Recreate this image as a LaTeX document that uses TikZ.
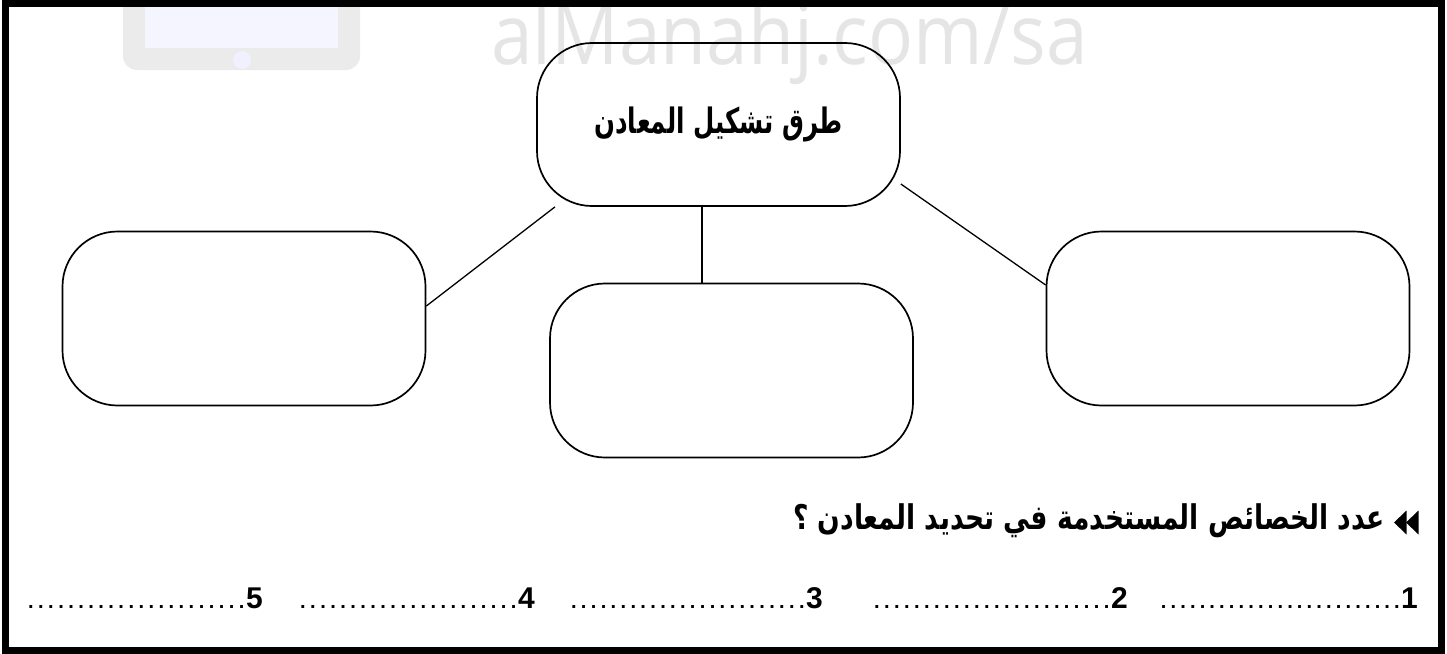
\documentclass[tikz,border=0pt]{standalone}
\usepackage{fontspec}
\setmainfont{Liberation Sans}
\newfontfamily\arb[Script=Arabic]{DejaVu Sans}
\newfontfamily\wmfont{Open Sans}
\TeXXeTstate=1
\newcommand\dotrow[1]{\makebox[#1pt]{\xleaders\hbox to 9.7pt{\hss.}\hfill}}
\begin{document}
\begin{tikzpicture}[x=1pt,y=-1pt,
  mbox/.style={draw, line width=1.7, rounded corners=55, minimum width=363, minimum height=174, inner sep=0},
  link/.style={line width=1.3},
  digit/.style={font=\bfseries\fontsize{30}{30}\selectfont, anchor=base east, inner sep=0},
  dots/.style={font=\bfseries\fontsize{20}{20}\selectfont, anchor=base east, inner sep=0},
  frame/.style={line width=6.5}]
\useasboundingbox (0,0) rectangle (1447,653);
% watermark
\fill[black!8, rounded corners=14] (123,-20) rectangle (360,70);
\fill[blue!4] (145,-5) rectangle (338,48);
\fill[blue!6] (242,60) circle (9);
\node[font=\wmfont\fontsize{84}{84}\selectfont, text=black!10, anchor=base west, inner sep=0] (wm) at (491,64) {\scalebox{0.89}[1]{alManahj.com/sa}};
% frame
\draw[frame] (5.7,3.5) rectangle (1441.5,650.5);
% boxes
\node[mbox, minimum height=163] (top) at (718.5,124.5) {\arb\bfseries\fontsize{35}{40}\selectfont\scalebox{0.7}[1]{\beginR طرق تشكيل المعادن\endR}};
\node[mbox] (left) at (244,318.5) {};
\node[mbox] (mid) at (731.5,370.5) {};
\node[mbox] (right) at (1228,318.5) {};
% connectors
\draw[link] ([xshift=-16.5]top.south) -- ([xshift=-29.5]mid.north);
\draw[link] ([yshift=12.5]left.east) -- ([xshift=-163.5]top.south);
\draw[link] ([yshift=-59.5]top.east) -- ([yshift=33.5]right.west);
% question
\node[anchor=base east, inner sep=0, font=\arb\bfseries\fontsize{34}{40}\selectfont] (q) at (1385,529) {\scalebox{0.78}[1]{\beginR عدد الخصائص المستخدمة في تحديد المعادن ؟\endR}};
\fill (1394,522.5) -- (1406.5,510.5) -- (1406.5,534.5) -- cycle;
\fill (1406,522.5) -- (1418.5,510.5) -- (1418.5,534.5) -- cycle;
% answer line
\node[digit] (n1) at (1418,608) {1};
\node[digit] (n2) at (1128,608) {2};
\node[digit] (n3) at (823,608) {3};
\node[digit] (n4) at (535,608) {4};
\node[digit] (n5) at (263,608) {5};
\node[dots] (d1) at ([xshift=-1]n1.base west) {\dotrow{243}};
\node[dots] (d2) at ([xshift=-1]n2.base west) {\dotrow{240}};
\node[dots] (d3) at ([xshift=-1]n3.base west) {\dotrow{238}};
\node[dots] (d4) at ([xshift=-1]n4.base west) {\dotrow{221}};
\node[dots] (d5) at ([xshift=-1]n5.base west) {\dotrow{221}};
\end{tikzpicture}
\end{document}
